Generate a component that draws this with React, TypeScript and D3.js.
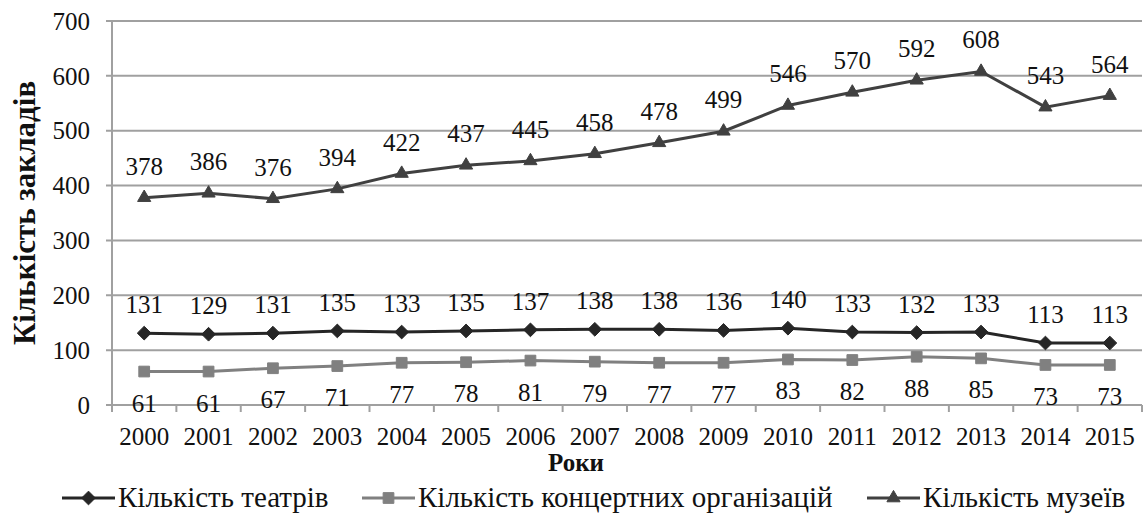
import React from 'react';
import * as d3 from 'd3';

// Line chart: theatres / concert orgs / museums, 2000–2015

const WIDTH = 1144;
const HEIGHT = 514;
const PLOT = { left: 112, right: 1142, top: 21, bottom: 405 };
const FONT = 'Liberation Serif';

const years = [
  '2000', '2001', '2002', '2003', '2004', '2005', '2006', '2007',
  '2008', '2009', '2010', '2011', '2012', '2013', '2014', '2015',
];
const theatres = [131, 129, 131, 135, 133, 135, 137, 138, 138, 136, 140, 133, 132, 133, 113, 113];
const concerts = [61, 61, 67, 71, 77, 78, 81, 79, 77, 77, 83, 82, 88, 85, 73, 73];
const museums = [378, 386, 376, 394, 422, 437, 445, 458, 478, 499, 546, 570, 592, 608, 543, 564];
const yTicks = [0, 100, 200, 300, 400, 500, 600, 700];

const seriesNames = ['Кількість театрів', 'Кількість концертних організацій', 'Кількість музеїв'];
const yTitle = 'Кількість закладів';
const xTitle = 'Роки';

const SERIES = [
  { name: seriesNames[0], values: theatres, color: '#262626', symbol: d3.symbolDiamond2, size: 120, labelDy: -20 },
  { name: seriesNames[1], values: concerts, color: '#808080', symbol: d3.symbolSquare, size: 115, labelDy: 40 },
  { name: seriesNames[2], values: museums, color: '#404040', symbol: d3.symbolTriangle, size: 75, labelDy: -23 },
];

// legend item start x positions
const LEGEND_X = [62, 362, 867];
const LEGEND_Y = 498;

function Label(props: any) {
  const { children, ...rest } = props;
  return (
    <text fontFamily={FONT} fill="#111" style={{ fontFamily: FONT }} {...rest}>
      {children}
    </text>
  );
}

export default function App() {
  const x = d3.scaleBand().domain(years).range([PLOT.left, PLOT.right]);
  const y = d3.scaleLinear().domain([0, 700]).range([PLOT.bottom, PLOT.top]);
  const cx = (yr: string) => (x(yr) ?? 0) + x.bandwidth() / 2;

  const line = d3
    .line<number>()
    .x((_, i) => cx(years[i]))
    .y((v) => y(v));

  const boundaries = years.map((yr) => x(yr) ?? 0).concat([PLOT.right]);

  return (
    <div style={{ position: 'absolute', left: 0, top: 0, fontFamily: FONT }}>
      <svg width={WIDTH} height={HEIGHT} style={{ display: 'block', background: '#fff' }}>
        <style>{`text { font-family: 'Liberation Serif', serif; }`}</style>
        {/* gridlines */}
        {yTicks.map((t) => (
          <g key={`g-${t}`}>
            <line x1={PLOT.left - 6} x2={PLOT.right} y1={y(t)} y2={y(t)} stroke="#a0a0a0" strokeWidth={2} />
            <Label x={90} y={y(t)} dy="0.35em" textAnchor="end" fontSize={25}>
              {t}
            </Label>
          </g>
        ))}

        {/* axes */}
        <line x1={PLOT.left} x2={PLOT.left} y1={PLOT.top} y2={PLOT.bottom + 7} stroke="#a0a0a0" strokeWidth={2} />
        {boundaries.map((bx, i) => (
          <line key={`t-${i}`} x1={bx} x2={bx} y1={PLOT.bottom} y2={PLOT.bottom + 7} stroke="#a0a0a0" strokeWidth={2} />
        ))}
        {years.map((yr) => (
          <Label key={`xl-${yr}`} x={cx(yr)} y={445} textAnchor="middle" fontSize={25}>
            {yr}
          </Label>
        ))}

        {/* series */}
        {SERIES.map((s) => {
          const sym = d3.symbol().type(s.symbol).size(s.size)();
          return (
            <g key={s.name}>
              <path d={line(s.values) ?? ''} fill="none" stroke={s.color} strokeWidth={3} />
              {s.values.map((v, i) => (
                <path
                  key={`m-${i}`}
                  d={sym ?? ''}
                  transform={`translate(${cx(years[i])},${y(v)})`}
                  fill={s.color}
                  stroke={s.color}
                  strokeWidth={1}
                />
              ))}
              {s.values.map((v, i) => (
                <Label key={`l-${i}`} x={cx(years[i])} y={y(v) + s.labelDy} textAnchor="middle" fontSize={25}>
                  {v}
                </Label>
              ))}
            </g>
          );
        })}

        {/* axis titles */}
        <Label
          transform={`translate(35, ${(PLOT.top + PLOT.bottom) / 2}) rotate(-90)`}
          textAnchor="middle"
          fontSize={31}
          fontWeight="bold"
        >
          {yTitle}
        </Label>
        <Label x={576} y={471} textAnchor="middle" fontSize={25} fontWeight="bold">
          {xTitle}
        </Label>

        {/* legend */}
        {SERIES.map((s, i) => {
          const lx = LEGEND_X[i];
          const sym = d3.symbol().type(s.symbol).size(s.size)();
          return (
            <g key={`lg-${i}`} transform={`translate(${lx},${LEGEND_Y})`}>
              <line x1={0} x2={53} y1={0} y2={0} stroke={s.color} strokeWidth={3} />
              <path d={sym ?? ''} transform="translate(26.5,0)" fill={s.color} stroke={s.color} strokeWidth={1} />
              <Label x={56} y={0} dy="0.32em" fontSize={29}>
                {s.name}
              </Label>
            </g>
          );
        })}
      </svg>
    </div>
  );
}
